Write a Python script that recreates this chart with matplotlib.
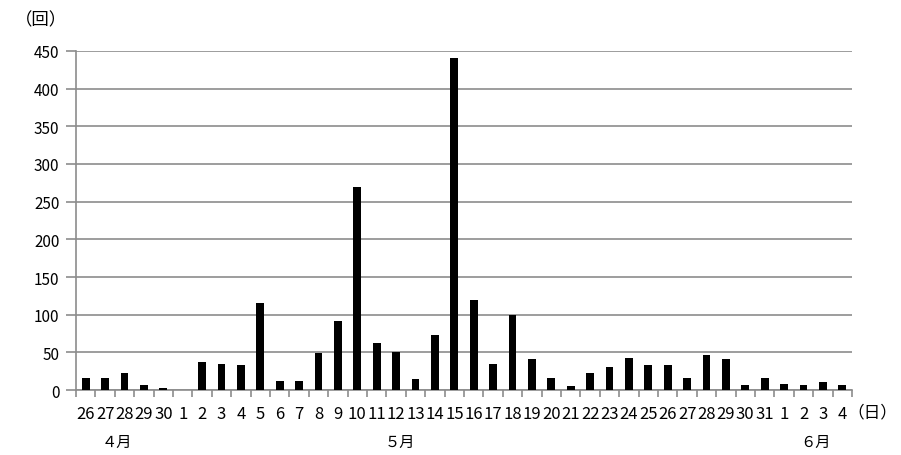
import numpy as np
import matplotlib
matplotlib.use("Agg")
import matplotlib.pyplot as plt

plt.rcParams['font.family'] = ['Noto Sans CJK JP', 'DejaVu Sans']

# 4/26 - 6/4 の日別回数
days = ["26", "27", "28", "29", "30",
        "1", "2", "3", "4", "5", "6", "7", "8", "9", "10",
        "11", "12", "13", "14", "15", "16", "17", "18", "19", "20",
        "21", "22", "23", "24", "25", "26", "27", "28", "29", "30", "31",
        "1", "2", "3", "4"]
counts = [16, 16, 23, 7, 3,
          0, 37, 35, 33, 116, 12, 12, 49, 92, 270,
          62, 50, 14, 73, 441, 120, 35, 100, 41, 16,
          5, 23, 31, 43, 33, 33, 16, 46, 41, 7, 16,
          8, 7, 10, 7]
months = ["４月", "５月", "６月"]
month_pos = [1.6, 16.2, 37.6]

GRID = "#8c8c8c"

fig = plt.figure(figsize=(9.01, 4.56), dpi=100)
ax = fig.add_axes([0.0844, 0.1425, 0.8612, 0.7435])

x = np.arange(len(days))
ax.bar(x, counts, width=0.4, color="black", zorder=3)

ax.set_xlim(-0.5, len(days) - 0.5)
ax.set_ylim(0, 450)
ax.set_yticks(range(0, 451, 50))
ax.yaxis.grid(True, color=GRID, lw=1.2, zorder=0)

ax.set_xticks(x)
ax.set_xticklabels(days, fontsize=12)
ax.set_xticks(np.arange(-0.5, len(days), 1), minor=True)
ax.tick_params(axis="x", which="major", length=0, pad=11)
ax.tick_params(axis="x", which="minor", length=5, color=GRID, width=1.2)
ax.tick_params(axis="y", length=7, color=GRID, width=1.2, labelsize=11, pad=5)

for s in ["top", "right"]:
    ax.spines[s].set_visible(False)
for s in ["left", "bottom"]:
    ax.spines[s].set_color(GRID)
    ax.spines[s].set_linewidth(1.2)

for m, p in zip(months, month_pos):
    ax.text(p, -0.152, m, transform=ax.get_xaxis_transform(),
            ha="center", va="center", fontsize=11)

fig.text(0.968, 0.094, "（日）", ha="center", va="center", fontsize=12)
fig.text(0.046, 0.955, "（回）", ha="center", va="center", fontsize=12.5)

fig.savefig("out.png", dpi=100)
